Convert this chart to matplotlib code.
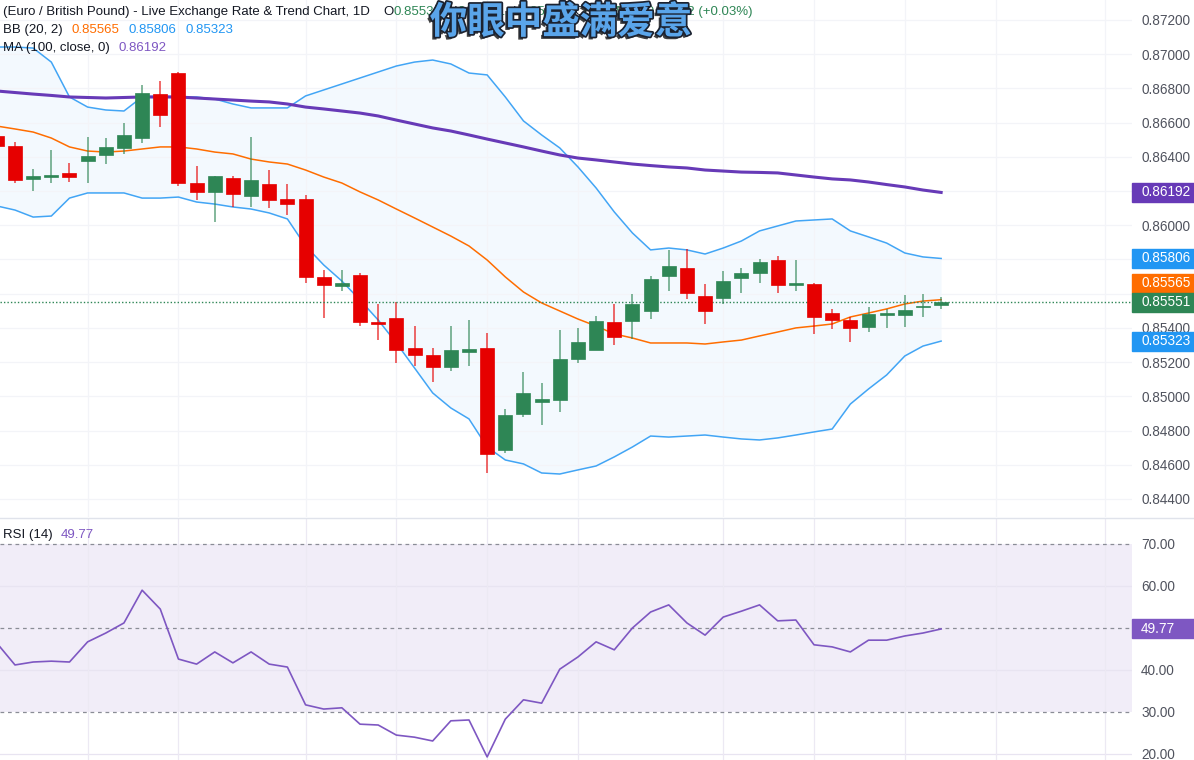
import matplotlib
matplotlib.use("Agg")
import numpy as np
import matplotlib.pyplot as plt
import matplotlib.patheffects as pe
from matplotlib.patches import Rectangle
from matplotlib.text import Annotation
from matplotlib.transforms import blended_transform_factory

plt.rcParams['font.family'] = ['Liberation Sans', 'DejaVu Sans']

# daily EUR/GBP candles, the first one is cut by the left border
opens = [0.86522, 0.86463, 0.86271, 0.86282, 0.86306, 0.86376, 0.86411, 0.86452, 0.86510, 0.86767,
         0.86890, 0.86247, 0.86195, 0.86276, 0.86171, 0.86241, 0.86154, 0.86154, 0.85698, 0.85645,
         0.85709, 0.85435, 0.85458, 0.85283, 0.85242, 0.85172, 0.85259, 0.85283, 0.84686, 0.84897,
         0.84967, 0.84979, 0.85218, 0.85271, 0.85435, 0.85440, 0.85499, 0.85704, 0.85750, 0.85587,
         0.85575, 0.85692, 0.85721, 0.85797, 0.85651, 0.85657, 0.85487, 0.85446, 0.85405, 0.85476,
         0.85476, 0.85522, 0.85534]
highs = [0.86545, 0.86487, 0.86329, 0.86440, 0.86364, 0.86516, 0.86510, 0.86598, 0.86820, 0.86843,
         0.86896, 0.86347, 0.86288, 0.86288, 0.86516, 0.86323, 0.86241, 0.86177, 0.85739, 0.85739,
         0.85721, 0.85540, 0.85552, 0.85411, 0.85283, 0.85411, 0.85446, 0.85370, 0.84926, 0.85142,
         0.85078, 0.85388, 0.85400, 0.85470, 0.85540, 0.85598, 0.85704, 0.85856, 0.85861, 0.85657,
         0.85733, 0.85750, 0.85803, 0.85820, 0.85797, 0.85663, 0.85511, 0.85464, 0.85522, 0.85511,
         0.85592, 0.85598, 0.85581]
lows = [0.86455, 0.86247, 0.86200, 0.86247, 0.86253, 0.86247, 0.86358, 0.86417, 0.86481, 0.86575,
        0.86230, 0.86148, 0.86019, 0.86107, 0.86107, 0.86101, 0.86060, 0.85663, 0.85458, 0.85616,
        0.85411, 0.85329, 0.85195, 0.85177, 0.85084, 0.85148, 0.85177, 0.84552, 0.84669, 0.84879,
        0.84833, 0.84909, 0.85195, 0.85271, 0.85300, 0.85335, 0.85452, 0.85616, 0.85569, 0.85423,
        0.85540, 0.85604, 0.85663, 0.85604, 0.85616, 0.85365, 0.85394, 0.85318, 0.85376, 0.85400,
        0.85405, 0.85464, 0.85511]
closes = [0.86463, 0.86265, 0.86288, 0.86294, 0.86282, 0.86405, 0.86458, 0.86528, 0.86773, 0.86645,
          0.86247, 0.86195, 0.86288, 0.86183, 0.86265, 0.86148, 0.86124, 0.85698, 0.85651, 0.85663,
          0.85435, 0.85423, 0.85271, 0.85242, 0.85172, 0.85271, 0.85277, 0.84663, 0.84891, 0.85020,
          0.84985, 0.85218, 0.85318, 0.85440, 0.85347, 0.85540, 0.85686, 0.85762, 0.85604, 0.85499,
          0.85674, 0.85721, 0.85785, 0.85651, 0.85663, 0.85464, 0.85446, 0.85400, 0.85481, 0.85487,
          0.85505, 0.85528, 0.85551]

bb_upper = [0.87042, 0.87042, 0.87036, 0.86954, 0.86750, 0.86691, 0.86674, 0.86668, 0.86750, 0.86756,
            0.86750, 0.86750, 0.86738, 0.86709, 0.86686, 0.86686, 0.86686, 0.86756, 0.86791, 0.86826,
            0.86861, 0.86896, 0.86931, 0.86954, 0.86966, 0.86943, 0.86890, 0.86879, 0.86750, 0.86610,
            0.86528, 0.86452, 0.86341, 0.86218, 0.86078, 0.85955, 0.85856, 0.85867, 0.85856, 0.85832,
            0.85867, 0.85908, 0.85967, 0.85996, 0.86025, 0.86031, 0.86037, 0.85967, 0.85932, 0.85896,
            0.85838, 0.85815, 0.85806]
bb_basis = [0.86580, 0.86563, 0.86545, 0.86510, 0.86458, 0.86434, 0.86428, 0.86434, 0.86446, 0.86458,
            0.86458, 0.86446, 0.86428, 0.86417, 0.86387, 0.86370, 0.86358, 0.86323, 0.86282, 0.86247,
            0.86195, 0.86148, 0.86095, 0.86043, 0.85990, 0.85937, 0.85879, 0.85797, 0.85698, 0.85610,
            0.85546, 0.85499, 0.85452, 0.85411, 0.85365, 0.85341, 0.85312, 0.85312, 0.85312, 0.85306,
            0.85318, 0.85329, 0.85353, 0.85376, 0.85400, 0.85411, 0.85423, 0.85464, 0.85487, 0.85511,
            0.85540, 0.85557, 0.85565]
bb_lower = [0.86113, 0.86089, 0.86048, 0.86054, 0.86159, 0.86189, 0.86189, 0.86189, 0.86159, 0.86159,
            0.86165, 0.86136, 0.86124, 0.86107, 0.86095, 0.86072, 0.86037, 0.85879, 0.85768, 0.85674,
            0.85563, 0.85446, 0.85312, 0.85166, 0.85020, 0.84932, 0.84868, 0.84704, 0.84628, 0.84605,
            0.84552, 0.84546, 0.84570, 0.84593, 0.84646, 0.84704, 0.84768, 0.84762, 0.84768, 0.84774,
            0.84762, 0.84751, 0.84745, 0.84757, 0.84774, 0.84792, 0.84809, 0.84955, 0.85043, 0.85125,
            0.85236, 0.85294, 0.85323]
ma100 = [0.86785, 0.86776, 0.86767, 0.86759, 0.86750, 0.86747, 0.86744, 0.86747, 0.86750, 0.86750,
         0.86750, 0.86744, 0.86738, 0.86732, 0.86726, 0.86721, 0.86709, 0.86691, 0.86680, 0.86668,
         0.86656, 0.86639, 0.86615, 0.86592, 0.86569, 0.86551, 0.86528, 0.86504, 0.86481, 0.86458,
         0.86434, 0.86411, 0.86393, 0.86382, 0.86370, 0.86358, 0.86349, 0.86341, 0.86335, 0.86323,
         0.86317, 0.86311, 0.86309, 0.86306, 0.86294, 0.86282, 0.86271, 0.86265, 0.86253, 0.86238,
         0.86224, 0.86206, 0.86192]
rsi14 = [46.4, 41.2, 41.9, 42.1, 41.9, 46.7, 48.8, 51.2, 59.0, 54.5,
         42.6, 41.4, 44.3, 41.7, 44.3, 41.4, 40.7, 31.7, 30.7, 31.0,
         27.1, 26.9, 24.5, 24.0, 23.1, 27.9, 28.1, 19.3, 28.3, 32.9,
         32.1, 40.2, 43.1, 46.7, 44.8, 50.0, 53.8, 55.5, 51.2, 48.3,
         52.6, 54.0, 55.5, 51.7, 51.9, 46.0, 45.5, 44.3, 47.1, 47.1,
         48.1, 48.8, 49.77]

price_ticks = [0.844, 0.846, 0.848, 0.850, 0.852, 0.854, 0.856, 0.858,
               0.860, 0.862, 0.864, 0.866, 0.868, 0.870, 0.872]
rsi_ticks = [20, 30, 40, 50, 60, 70]
week_lines = [4, 9, 16, 21, 26, 31, 39, 44, 49, 54, 60]

GREEN = '#2e8655'
RED = '#e60000'
BLUE = '#42a5f5'
LBL_BLUE = '#2196f3'
ORANGE = '#ff6d00'
PURPLE = '#673ab7'
RSI_COL = '#7e57c2'
DARK = '#131722'
TICK = '#50535e'
GRID = '#f3f4f8'
FS = 9.8
HFS = 9.5

W, H = 1194, 760
fig = plt.figure(figsize=(W / 100, H / 100), dpi=100)
ax = fig.add_axes([0, 1 - 517 / H, 1132 / W, 517 / H])
ax2 = fig.add_axes([0, 0, 1132 / W, 241 / H])

x = np.arange(-1, len(opens) - 1)
o = np.array(opens); c = np.array(closes)
hi = np.array(highs); lo = np.array(lows)
up = c >= o
cols = np.where(up, GREEN, RED)

# bollinger band fill and lines, 100 day average
ax.fill_between(x, bb_lower, bb_upper, color='#2196f3', alpha=0.05, lw=0, zorder=1)
ax.plot(x, bb_upper, color=BLUE, lw=1.1, zorder=2)
ax.plot(x, bb_lower, color=BLUE, lw=1.1, zorder=2)
ax.plot(x, bb_basis, color=ORANGE, lw=1.1, zorder=2)
ax.plot(x, ma100, color=PURPLE, lw=2.2, zorder=2)

# candles
ax.vlines(x, lo, hi, colors=cols, lw=1.1, alpha=0.75, zorder=3)
body = np.maximum(np.abs(c - o), 0.00006)
ax.bar(x, body, bottom=np.minimum(o, c), width=0.77, color=cols,
       edgecolor=cols, linewidth=0.5, zorder=4)

ax.axhline(closes[-1], color=GREEN, lw=1, ls=(0, (1, 1.5)), zorder=3)

ylo, yhi = 0.842947, 0.873169
ax.set_ylim(ylo, yhi)
ax.set_xlim(-0.826, 61.51)
ax.set_yticks(price_ticks)
ax.set_yticklabels(['%.5f' % t for t in price_ticks])
ax.set_xticks(week_lines)
ax.set_xticklabels([])
ax.yaxis.tick_right()
ax.tick_params(axis='both', length=0)
ax.tick_params(axis='y', pad=6.5, labelsize=FS, labelcolor=TICK)
ax.grid(color=GRID, lw=0.9, zorder=0)
for s in ax.spines.values():
    s.set_visible(False)

# price labels on the right edge, pushed apart from the last price
box_h = 19 * (yhi - ylo) / 517
last = closes[-1]
labels = [(ma100[-1], PURPLE), (bb_upper[-1], LBL_BLUE), (bb_basis[-1], ORANGE),
          (bb_lower[-1], LBL_BLUE)]
trans = blended_transform_factory(ax.transAxes, ax.transData)


def price_box(axis, tr, ypos, height, text, color):
    axis.add_patch(Rectangle((1.0, ypos - height / 2), 0.07, height, transform=tr,
                             color=color, clip_on=False, zorder=6))
    axis.text(1.0 + 9 / 1132, ypos, text, transform=tr, color='white', fontsize=FS,
              va='center', ha='left', clip_on=False, zorder=7)


for v, col in labels:
    ypos = v
    if abs(v - last) < box_h:
        ypos = last + box_h if v >= last else last - box_h
    price_box(ax, trans, ypos, box_h, '%.5f' % v, col)
price_box(ax, trans, last, box_h, '%.5f' % last, GREEN)

# RSI pane
ax2.axhspan(30, 70, color=RSI_COL, alpha=0.1, lw=0, zorder=0)
for lv in [20, 40, 60]:
    ax2.axhline(lv, color='#e8e4f1', lw=0.9, zorder=1)
for lv in [30, 50, 70]:
    ax2.axhline(lv, color='#8a8d96', lw=0.9, ls=(0, (3, 3)), zorder=2)
for wl in week_lines:
    ax2.axvline(wl, color='#ece9f3', lw=0.9, zorder=1)
ax2.plot(x, rsi14, color=RSI_COL, lw=1.2, zorder=3)
r_lo, r_hi = 18.57, 75.95
ax2.set_ylim(r_lo, r_hi)
ax2.set_xlim(-0.826, 61.51)
ax2.set_yticks(rsi_ticks)
ax2.set_yticklabels(['%.2f' % t for t in rsi_ticks])
ax2.set_xticks([])
ax2.yaxis.tick_right()
ax2.tick_params(axis='y', length=0, pad=6.5, labelsize=FS, labelcolor=TICK)
for s in ax2.spines.values():
    s.set_visible(False)
trans2 = blended_transform_factory(ax2.transAxes, ax2.transData)
price_box(ax2, trans2, rsi14[-1], 19 * (r_hi - r_lo) / 241, '%.2f' % rsi14[-1], RSI_COL)

fig.add_artist(plt.Line2D([0, 1], [1 - 518 / H, 1 - 518 / H], color='#e0e3eb', lw=1))


def legend_row(px, py, parts):
    # first piece placed in pixels, the rest chained to the right of the previous one
    t = fig.text(px / W, 1 - py / H, parts[0][0], color=parts[0][1], fontsize=HFS,
                 va='center', ha='left')
    for s, col, gap in parts[1:]:
        t = fig.add_artist(Annotation(
            s, xy=(1, 0.5), xycoords=t, xytext=(gap, 0), textcoords='offset pixels',
            color=col, fontsize=HFS, va='center', ha='left', annotation_clip=False))


legend_row(3, 12, [("(Euro / British Pound) - Live Exchange Rate & Trend Chart, 1D", DARK),
                   ("O", DARK, 13), ("0.85534", GREEN, 0), ("H", DARK, 7), ("0.85581", GREEN, 0),
                   ("L", DARK, 7), ("0.85511", GREEN, 0), ("C", DARK, 7), ("0.85551", GREEN, 0),
                   ("+0.00022 (+0.03%)", GREEN, 7)])
legend_row(3, 30, [("BB (20, 2)", DARK), ("0.85565", ORANGE, 9),
                   ("0.85806", LBL_BLUE, 9), ("0.85323", LBL_BLUE, 9)])
legend_row(3, 48, [("MA (100, close, 0)", DARK), ("0.86192", RSI_COL, 9)])
legend_row(3, 535, [("RSI (14)", DARK), ("49.77", RSI_COL, 8)])

fig.text(561 / W, 1 - 22 / H, "你眼中盛满爱意", fontsize=27, weight='bold',
         family=['Noto Sans CJK SC', 'DejaVu Sans'], color='#5aa5ea',
         ha='center', va='center', zorder=10,
         path_effects=[pe.SimplePatchShadow(offset=(-2, -2), shadow_rgbFace='#111111', alpha=0.8),
                       pe.withStroke(linewidth=2.5, foreground='#1b2230')])

fig.savefig('out.png', dpi=100)
